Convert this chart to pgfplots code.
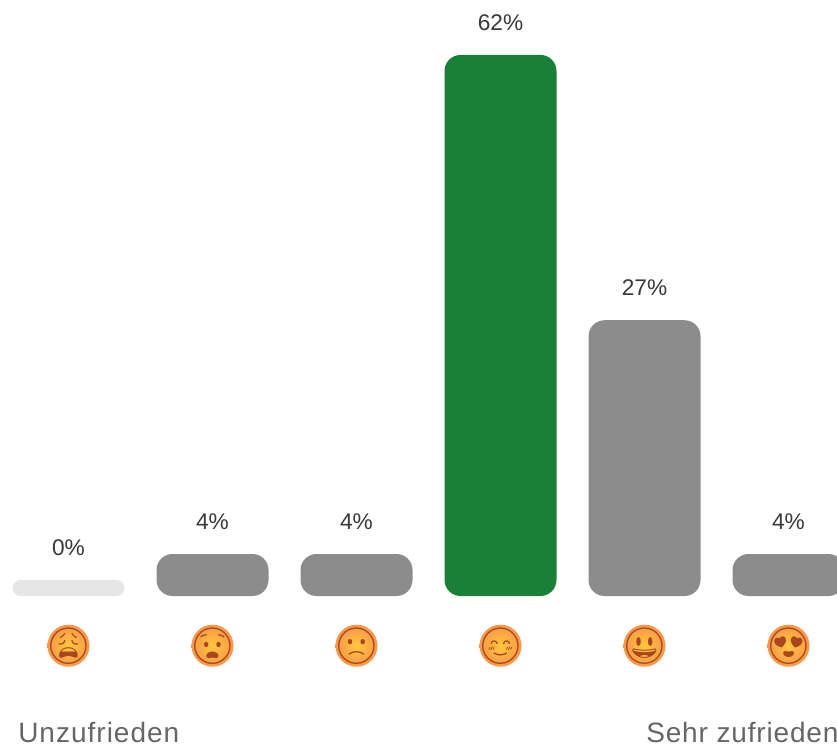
\documentclass[border=0pt]{standalone}
\usepackage{pgfplots}
\usepackage{pgfplotstable}
\usepackage{fontspec}
\pgfplotsset{compat=1.18}
\setmainfont{Liberation Sans}
\newfontfamily\emojifont{Noto Emoji}
\definecolor{barGreen}{HTML}{1A7F37}
\definecolor{barGray}{HTML}{8C8C8C}
\definecolor{barLight}{HTML}{E6E6E6}
\definecolor{valText}{HTML}{383838}
\definecolor{capText}{HTML}{666666}
\definecolor{faceIn}{HTML}{FFC83D}
\definecolor{faceOut}{HTML}{F7964A}
\definecolor{featureInk}{HTML}{A8461F}
\newcommand\emo[1]{\smash{\makebox[0pt]{\emojifont\raisebox{-.36em}{#1}}}}
\pgfplotstableread{
x y lab
0 1.83 0\%
}\lightbars
\pgfplotstableread{
x y lab
1 4.81 4\%
2 4.81 4\%
4 31.6 27\%
5 4.81 4\%
}\graybars
\pgfplotstableread{
x y lab
3 62 62\%
}\greenbars
\begin{document}
\begin{tikzpicture}[x=1pt,y=1pt]
\path[use as bounding box] (0,-111.75) rectangle (627.75,447);
\begin{axis}[
  at={(0,0)}, anchor=south west,
  scale only axis, width=627.75pt, height=447pt,
  xmin=-0.4757, xmax=5.3368, ymin=0, ymax=68.3,
  axis line style={draw=none}, tick style={draw=none},
  ytick=\empty,
  xtick={0,1,2,3,4,5},
  xticklabels={{\emo{😩}},{\emo{😧}},{\emo{🙁}},{\emo{😊}},{\emo{😃}},{\emo{😍}}},
  xticklabel style={anchor=center, yshift=-33pt, circle, inner sep=0pt, minimum size=31.5pt,
     inner color=faceIn, outer color=faceOut, font=\fontsize{27pt}{27pt}\selectfont, text=featureInk},
  ybar, bar shift=0pt, bar width=84pt,
  point meta=explicit symbolic,
  nodes near coords,
  every node near coord/.append style={anchor=center, yshift=24.5pt, text=valText,
     font=\fontsize{17pt}{20pt}\selectfont},
]
\addplot[fill=barLight, draw=none, rounded corners=6pt] table[x=x,y=y,meta=lab] {\lightbars};
\addplot[fill=barGray, draw=none, rounded corners=12pt] table[x=x,y=y,meta=lab] {\graybars};
\addplot[fill=barGreen, draw=none, rounded corners=12pt] table[x=x,y=y,meta=lab] {\greenbars};
\end{axis}
\node[anchor=base west, text=capText, font=\fontsize{21pt}{24pt}\selectfont\addfontfeature{LetterSpace=3.6}, inner sep=0pt] at (13.5,-109.5) {Unzufrieden};
\node[anchor=base west, text=capText, font=\fontsize{21pt}{24pt}\selectfont\addfontfeature{LetterSpace=3.0}, inner sep=0pt] at (484.5,-109.5) {Sehr zufrieden};
\end{tikzpicture}
\end{document}
